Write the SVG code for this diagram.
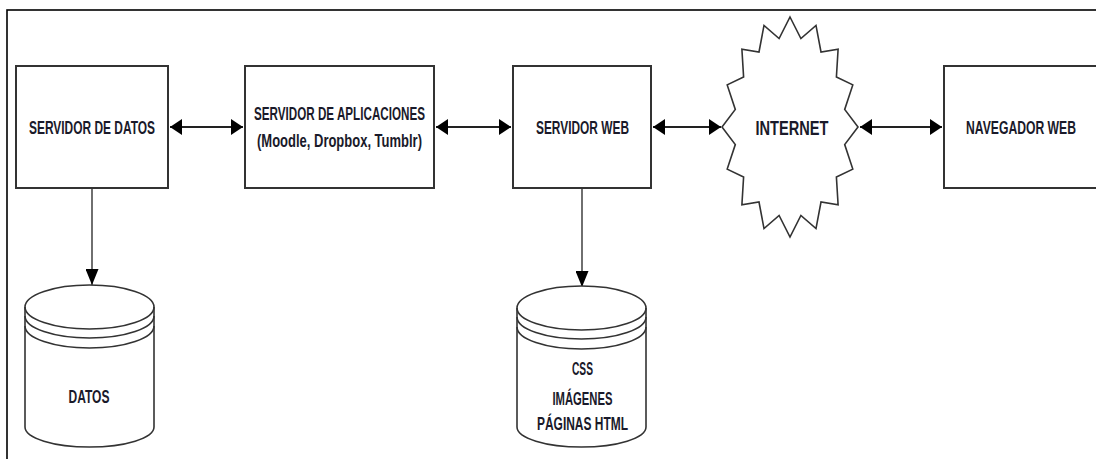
<svg xmlns="http://www.w3.org/2000/svg" width="1096" height="459" viewBox="0 0 1096 459">
<style>
.box{fill:#fff;stroke:#333;stroke-width:2}
.shape{fill:#fff;stroke:#333;stroke-width:1.6}
.band{fill:none;stroke:#333;stroke-width:1.6}
.t{font-family:"Liberation Sans",Arial,sans-serif;font-size:18.5px;font-weight:bold;fill:#1a1a2a;text-anchor:middle}
.h{stroke:#222;stroke-width:2.2;fill:none}
.v{stroke:#222;stroke-width:1.3;fill:none}
</style>
<defs>
<marker id="ah" markerUnits="userSpaceOnUse" markerWidth="13" markerHeight="16" refX="12" refY="8" orient="auto-start-reverse"><path d="M0,0 L12,8 L0,16 z" fill="#000"/></marker>
<marker id="av" markerUnits="userSpaceOnUse" markerWidth="17" markerHeight="13" refX="16" refY="6.5" orient="auto"><path d="M0,0 L16,6.5 L0,13 z" fill="#000"/></marker>
</defs>
<rect x="7" y="10" width="1100" height="470" fill="#fff" stroke="#000" stroke-width="1.6"/>
<g id="connectors">
<line class="h" x1="170" y1="127" x2="243" y2="127" marker-start="url(#ah)" marker-end="url(#ah)"/>
<line class="h" x1="436" y1="127" x2="511" y2="127" marker-start="url(#ah)" marker-end="url(#ah)"/>
<line class="h" x1="653" y1="127" x2="721" y2="127" marker-start="url(#ah)" marker-end="url(#ah)"/>
<line class="h" x1="860" y1="127" x2="942" y2="127" marker-start="url(#ah)" marker-end="url(#ah)"/>
<line class="v" x1="92" y1="189" x2="92" y2="285" marker-end="url(#av)"/>
<line class="v" x1="582" y1="189" x2="582" y2="287" marker-end="url(#av)"/>
</g>
<g id="servidor-datos">
<rect class="box" x="16" y="66" width="152" height="122"/>
<text class="t" x="92" y="133.5" textLength="126" lengthAdjust="spacingAndGlyphs">SERVIDOR DE DATOS</text>
</g>
<g id="servidor-aplicaciones">
<rect class="box" x="245" y="66" width="189" height="122"/>
<text class="t" x="339.5" y="119.5" textLength="171" lengthAdjust="spacingAndGlyphs">SERVIDOR DE APLICACIONES</text>
<text class="t" x="339.5" y="146.5" textLength="165" lengthAdjust="spacingAndGlyphs">(Moodle, Dropbox, Tumblr)</text>
</g>
<g id="servidor-web">
<rect class="box" x="513" y="66" width="138" height="122"/>
<text class="t" x="582.5" y="133.5" textLength="93" lengthAdjust="spacingAndGlyphs">SERVIDOR WEB</text>
</g>
<g id="internet">
<path class="shape" d="M790,17 L800.9,38.5 L816,25.4 L821,52 L838.1,49.2 L836.4,76.9 L852.8,84.9 L844.7,109.4 L858,127 L844.7,144.6 L852.8,169.1 L836.4,177.1 L838.1,204.8 L821,202 L816,228.6 L800.9,215.5 L790,237 L779.1,215.5 L764,228.6 L759,202 L741.9,204.8 L743.6,177.1 L727.2,169.1 L735.3,144.6 L722,127 L735.3,109.4 L727.2,84.9 L743.6,76.9 L741.9,49.2 L759,52 L764,25.4 L779.1,38.5 Z"/>
<text class="t" x="792" y="134.5" style="font-size:20.5px" textLength="73" lengthAdjust="spacingAndGlyphs">INTERNET</text>
</g>
<g id="navegador-web">
<rect class="box" x="944" y="66" width="153" height="122"/>
<text class="t" x="1021" y="133.5" textLength="110" lengthAdjust="spacingAndGlyphs">NAVEGADOR WEB</text>
</g>
<g id="datos">
<path class="shape" d="M25,307 L25,427 A64.5,20 0 0 0 154,427 L154,307 A64.5,22 0 0 0 25,307 Z"/>
<path class="band" d="M25,307 A64.5,22 0 0 0 154,307"/>
<path class="band" d="M25,316 A64.5,22 0 0 0 154,316"/>
<path class="band" d="M25,326 A64.5,22 0 0 0 154,326"/>
<text class="t" x="89" y="402.5" textLength="41" lengthAdjust="spacingAndGlyphs">DATOS</text>
</g>
<g id="archivos-web">
<path class="shape" d="M517,308 L517,427 A64.5,20 0 0 0 646,427 L646,308 A64.5,22 0 0 0 517,308 Z"/>
<path class="band" d="M517,308 A64.5,22 0 0 0 646,308"/>
<path class="band" d="M517,317 A64.5,22 0 0 0 646,317"/>
<path class="band" d="M517,327 A64.5,22 0 0 0 646,327"/>
<text class="t" x="582.5" y="374.5" textLength="21" lengthAdjust="spacingAndGlyphs">CSS</text>
<text class="t" x="582.5" y="404.5" textLength="60" lengthAdjust="spacingAndGlyphs">IMÁGENES</text>
<text class="t" x="582.5" y="429.5" textLength="91" lengthAdjust="spacingAndGlyphs">PÁGINAS HTML</text>
</g>
</svg>
